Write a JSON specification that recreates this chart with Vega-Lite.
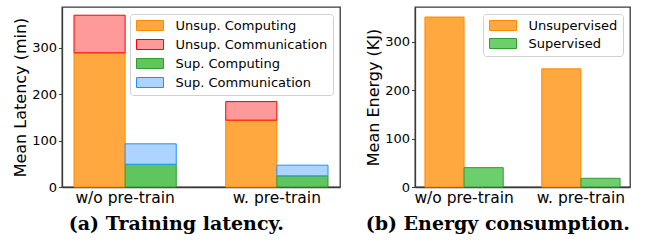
{
  "$schema": "https://vega.github.io/schema/vega-lite/v6.json",
  "padding": {"left": 12, "top": 6, "right": 0, "bottom": 0},
  "spacing": 24,
  "datasets": {
    "lat": [
      {"group": "w/o pre-train", "method": "Unsup.", "series": "Unsup. Computing", "ord": 0, "value": 289},
      {"group": "w/o pre-train", "method": "Unsup.", "series": "Unsup. Communication", "ord": 1, "value": 81},
      {"group": "w/o pre-train", "method": "Sup.", "series": "Sup. Computing", "ord": 0, "value": 49},
      {"group": "w/o pre-train", "method": "Sup.", "series": "Sup. Communication", "ord": 1, "value": 44},
      {"group": "w. pre-train", "method": "Unsup.", "series": "Unsup. Computing", "ord": 0, "value": 144},
      {"group": "w. pre-train", "method": "Unsup.", "series": "Unsup. Communication", "ord": 1, "value": 40},
      {"group": "w. pre-train", "method": "Sup.", "series": "Sup. Computing", "ord": 0, "value": 24},
      {"group": "w. pre-train", "method": "Sup.", "series": "Sup. Communication", "ord": 1, "value": 23}
    ],
    "energy": [
      {"group": "w/o pre-train", "series": "Unsupervised", "value": 351},
      {"group": "w/o pre-train", "series": "Supervised", "value": 40},
      {"group": "w. pre-train", "series": "Unsupervised", "value": 244},
      {"group": "w. pre-train", "series": "Supervised", "value": 18}
    ]
  },
  "hconcat": [
    {
      "width": 278,
      "height": 180,
      "data": {"name": "lat"},
      "title": {"text": "(a) Training latency."},
      "mark": {"type": "bar", "strokeWidth": 1},
      "encoding": {
        "x": {"field": "group", "type": "nominal", "sort": ["w/o pre-train", "w. pre-train"], "scale": {"paddingInner": 0.326, "paddingOuter": 0.079}, "axis": {"title": null}},
        "xOffset": {"field": "method", "type": "nominal", "sort": ["Unsup.", "Sup."], "scale": {"paddingInner": 0, "paddingOuter": 0}},
        "y": {"field": "value", "type": "quantitative", "stack": "zero", "scale": {"domain": [0, 387.7], "nice": false}, "axis": {"values": [0, 100, 200, 300], "title": "Mean Latency (min)"}},
        "color": {"field": "series", "type": "nominal", "scale": {"domain": ["Unsup. Computing", "Unsup. Communication", "Sup. Computing", "Sup. Communication"], "range": ["#ffa83f", "#ff9a9a", "#5fc65f", "#acd4ff"]}, "legend": {"title": null, "orient": "top-right", "offset": 7, "rowPadding": 4}},
        "stroke": {"field": "series", "type": "nominal", "scale": {"domain": ["Unsup. Computing", "Unsup. Communication", "Sup. Computing", "Sup. Communication"], "range": ["#ff8c00", "#ff0000", "#2e9e2e", "#1e90ff"]}, "legend": {"title": null, "orient": "top-right", "offset": 7, "rowPadding": 4}},
        "order": {"field": "ord", "type": "quantitative"}
      }
    },
    {
      "width": 215,
      "height": 180,
      "data": {"name": "energy"},
      "title": {"text": "(b) Energy consumption."},
      "mark": {"type": "bar", "strokeWidth": 1},
      "encoding": {
        "x": {"field": "group", "type": "nominal", "sort": ["w/o pre-train", "w. pre-train"], "scale": {"paddingInner": 0.33, "paddingOuter": 0.085}, "axis": {"title": null}},
        "xOffset": {"field": "series", "type": "nominal", "sort": ["Unsupervised", "Supervised"], "scale": {"paddingInner": 0, "paddingOuter": 0}},
        "y": {"field": "value", "type": "quantitative", "scale": {"domain": [0, 371.7], "nice": false}, "axis": {"values": [0, 100, 200, 300], "title": "Mean Energy (KJ)"}},
        "color": {"field": "series", "type": "nominal", "scale": {"domain": ["Unsupervised", "Supervised"], "range": ["#ffa83f", "#6ccf6c"]}, "legend": {"title": null, "orient": "top-right", "offset": 7, "rowPadding": 3}},
        "stroke": {"field": "series", "type": "nominal", "scale": {"domain": ["Unsupervised", "Supervised"], "range": ["#ff8c00", "#2e9e2e"]}, "legend": {"title": null, "orient": "top-right", "offset": 7, "rowPadding": 3}}
      }
    }
  ],
  "resolve": {"scale": {"color": "independent", "stroke": "independent", "y": "independent", "x": "independent", "xOffset": "independent"}, "legend": {"color": "independent", "stroke": "independent"}},
  "config": {
    "view": {"stroke": "#3a3a3a", "strokeWidth": 1.3},
    "font": "DejaVu Sans",
    "axis": {"labelFont": "DejaVu Sans", "titleFont": "DejaVu Sans", "labelColor": "#000000", "titleColor": "#000000", "domainColor": "#3a3a3a", "domainWidth": 1.3, "tickColor": "#3a3a3a", "grid": false, "titleFontWeight": "normal"},
    "axisX": {"labelAngle": 0, "labelFontSize": 15.5, "ticks": false, "labelPadding": 3},
    "axisY": {"labelFontSize": 13, "tickSize": 3.5, "labelPadding": 2, "titleFontSize": 16, "titlePadding": 3},
    "legend": {"labelFont": "DejaVu Sans", "labelFontSize": 13, "labelColor": "#000000", "padding": 5, "symbolOffset": 8.5, "labelOffset": 19, "symbolSize": 100, "symbolType": "M-2.7,-1H2.7V1H-2.7Z", "symbolStrokeWidth": 1, "strokeColor": "#d0d0d0", "fillColor": "#ffffff", "cornerRadius": 3},
    "title": {"orient": "bottom", "anchor": "middle", "frame": "bounds", "font": "DejaVu Serif", "fontSize": 19, "fontWeight": "bold", "color": "#000000", "offset": 9}
  }
}
